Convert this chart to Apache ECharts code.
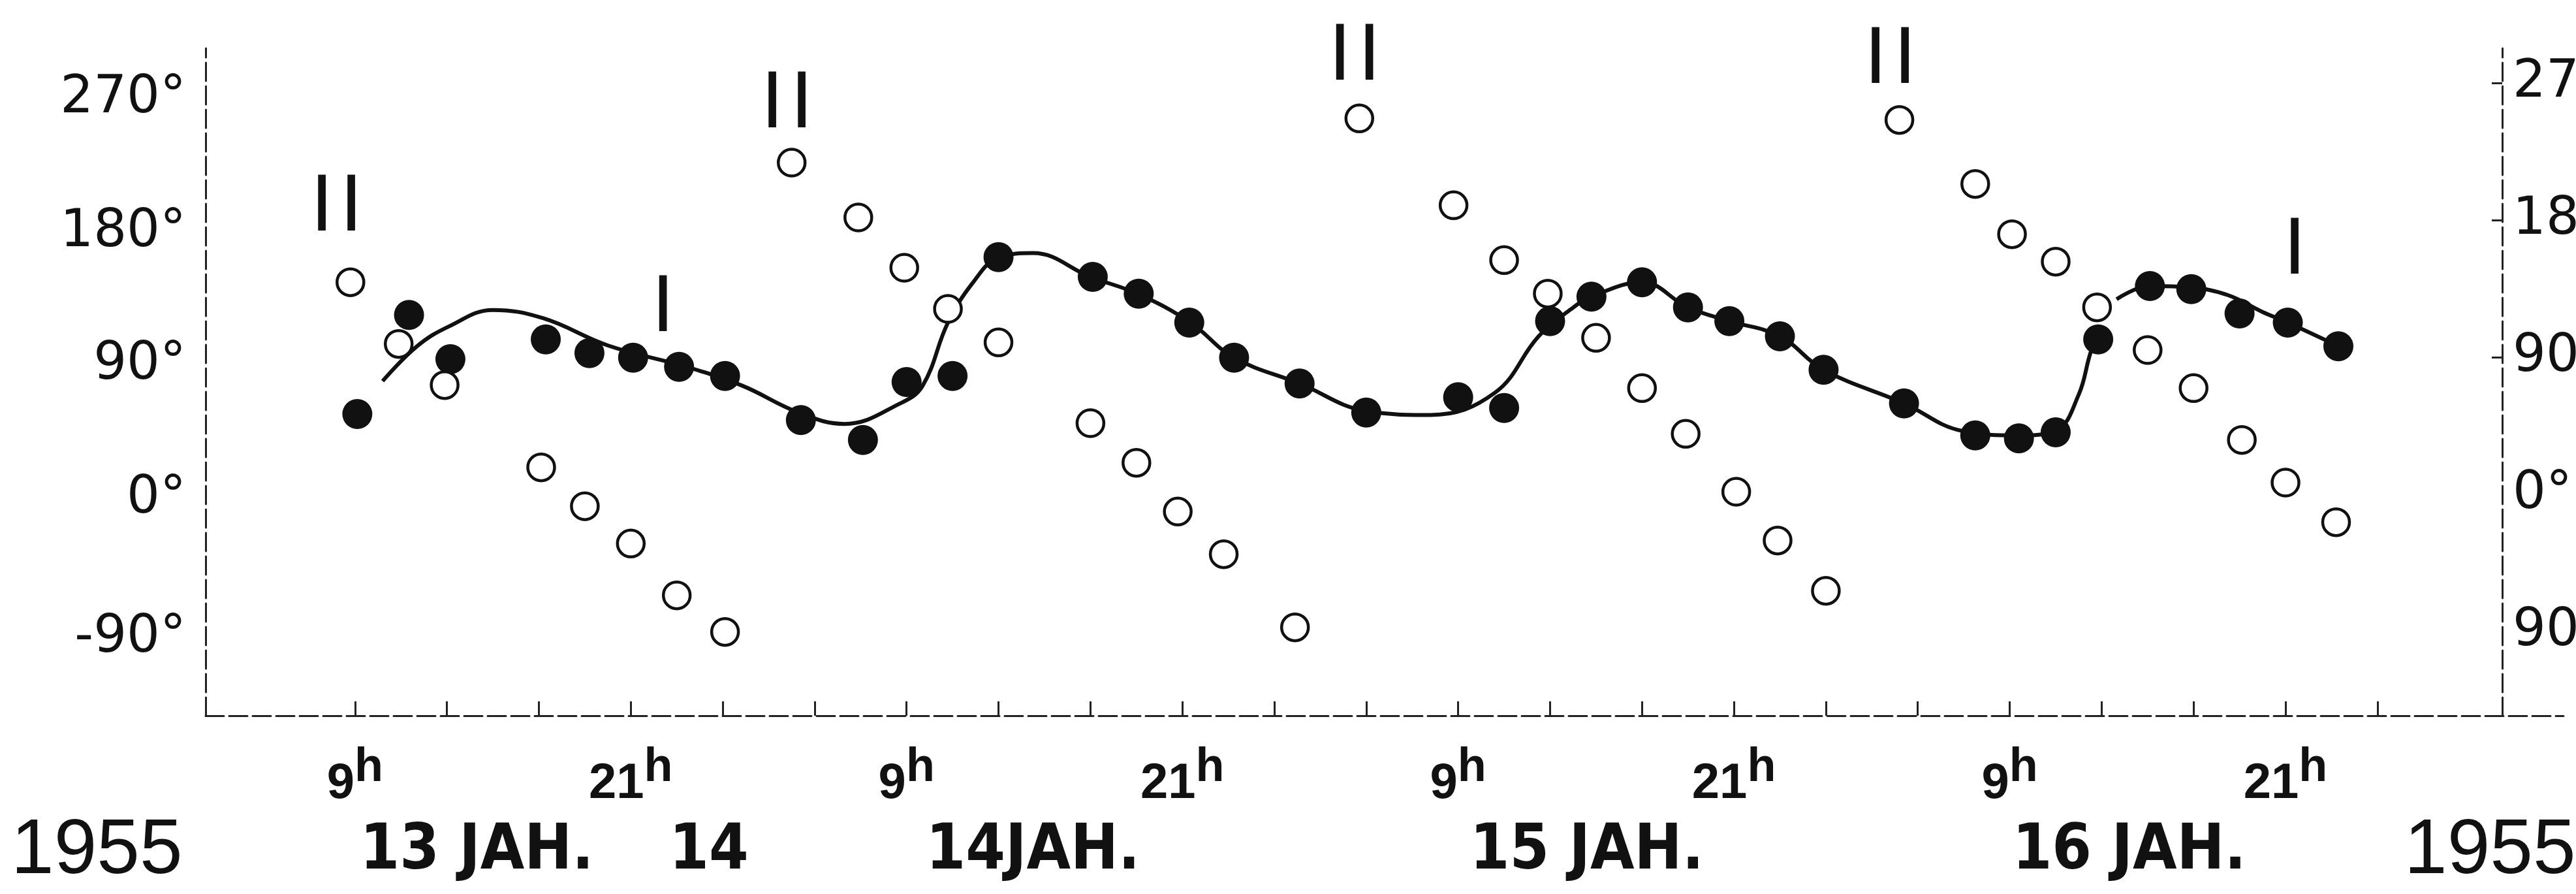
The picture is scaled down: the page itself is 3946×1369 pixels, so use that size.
<!DOCTYPE html>
<html>
<head>
<meta charset="utf-8">
<script src="https://cdn.jsdelivr.net/npm/echarts@6/dist/echarts.min.js"></script>
<style>
  html, body { margin: 0; padding: 0; background: #fff; }
  #chart { width: 3946px; height: 1369px; }
</style>
</head>
<body>
<div id="chart"></div>
<script>
// time is in hours counted from 13 Jan 1955, 0h
// I : filled dots
const hoursI = [9.1, 11.35, 13.15, 17.3, 19.2, 21.1, 23.1, 25.1, 28.4, 31.1, 33.0, 35.0, 37.0, 41.1, 43.1, 45.3, 47.25, 50.1, 53.0, 57.0,
  59.0, 61.0, 62.8, 65.0, 67.0, 68.8, 71.0, 72.9, 76.4, 79.5, 81.4, 83.0, 84.85, 87.1, 88.9, 91.0, 93.1, 95.3]
const phaseI = [53, 118, 89, 102, 93, 90, 84, 78, 49, 36, 74, 78, 156, 143, 132, 113, 90, 73, 54, 64,
  57, 114, 130, 139.5, 123, 114, 104, 82, 60, 39, 37, 41, 102, 137, 135, 119, 113, 97.5]

// II : open circles
const hoursII = [8.8, 10.9, 12.9, 17.1, 19.0, 21.0, 23.0, 25.1, 28.0, 30.9, 32.9, 34.8, 37.0, 41.0, 43.0, 44.8, 46.8, 49.9, 52.7, 56.8,
  59.0, 60.9, 63.0, 65.0, 66.9, 69.1, 70.9, 73.0, 76.2, 79.5, 81.1, 83.0, 84.8, 87.0, 89.0, 91.1, 93.0, 95.2]
const phaseII = [139.5, 99, 72, 18, -7.5, -32, -66, -90, 218, 182, 149, 122, 100, 47, 21, -11, -39, -87, 247, 190,
  154, 132, 103, 70, 40, 2, -30, -63, 246, 204, 171, 153, 123, 95, 70, 36, 8, -18]

// hand drawn curve through I, two pieces
const curve1Hours = [10.2, 11.7, 13.1, 15.0, 17.2, 20.0, 23.5, 25.85, 28.3, 30.3, 32.7, 33.7, 34.8, 35.9, 37.0, 38.5, 41.0, 43.1, 45.35, 47.25,
  50.1, 53.0, 55.8, 58.6, 60.5, 61.9, 62.8, 65.0, 67.0, 68.8, 71.0, 72.9, 76.4, 78.9, 81.4, 83.0, 84.0, 84.55, 84.85]
const curve1Phase = [74.6, 97.5, 110.6, 121.3, 115.8, 98, 83.6, 71.6, 54, 46.5, 59.8, 71.6, 113, 139.5, 155.7, 158.6, 143, 131.6, 113, 90,
  73, 55, 52.4, 67, 104, 121.7, 130, 139.5, 123, 114, 104, 82, 60, 42, 39, 42, 65.7, 94.8, 102]
const curve2Hours = [85.65, 87.1, 88.9, 90.5, 92.0, 93.1, 95.3]
const curve2Phase = [128.3, 137, 136, 131, 120, 113, 97.5]

// the I / II marks over the points
const annHours = [8.2, 27.8, 52.5, 75.8, 22.4, 93.4]
const annPhase = [188, 256, 287, 285, 122, 160]
const annTexts = ['II', 'II', 'II', 'II', 'I', 'I']

// axes
const tickHours = [9, 13, 17, 21, 25, 29, 33, 37, 41, 45, 49, 53, 57, 61, 65, 69, 73, 77, 81, 85, 89, 93, 97]
const labelHours = [9, 21, 33, 45, 57, 69, 81, 93]
const dateHours = [14.3, 24.4, 38.5, 62.6, 86.2]
const dateTexts = ['13 JAH.', '14', '14JAH.', '15 JAH.', '16 JAH.']
// left labels are printed a little off their ticks
const leftDegPos = [-94, -3, 85, 172, 260]
const leftDegTexts = ['-90°', '0°', '90°', '180°', '270°']
const rightDegPos = [-90, 0, 90, 180, 270]
const rightDegTexts = ['90', '0°', '90', '180', '270']
const rightTickDeg = [90, 180, 270]
const yearText = '1955'

const FONT = 'Liberation Sans'
const NARROW = '"DejaVu Sans Condensed", "Liberation Sans"'
const INK = '#111'

function pairs(xs, ys) {
  return xs.map((x, i) => [x, ys[i]])
}

const chart = echarts.init(document.getElementById('chart'))

const dashed = { color: '#222', width: 3, type: [28, 8] }

chart.setOption({
  backgroundColor: '#fff',
  animation: false,
  grid: {
    left: 315,
    right: 19,
    top: 74,
    bottom: 273,
    outerBoundsMode: 'none'
  },
  xAxis: [{
    type: 'value',
    min: 2.5,
    max: 105.1,
    position: 'bottom',
    splitLine: { show: false },
    axisLine: { show: true, onZero: false, lineStyle: dashed },
    axisTick: {
      show: true,
      inside: true,
      length: 22,
      customValues: tickHours,
      lineStyle: { color: '#222', width: 3 }
    },
    axisLabel: {
      customValues: labelHours,
      margin: 44,
      formatter: function(v) {
        return '{n|' + (v % 24) + '}{h|h}'
      },
      rich: {
        n: { fontFamily: FONT, fontWeight: 'bold', fontSize: 76, lineHeight: 122, color: INK },
        h: { fontFamily: FONT, fontWeight: 'bold', fontSize: 72, lineHeight: 60, verticalAlign: 'top', color: INK }
      }
    }
  }, {
    type: 'value',
    min: 2.5,
    max: 105.1,
    position: 'bottom',
    splitLine: { show: false },
    axisLine: { show: false, onZero: false },
    axisTick: { show: false },
    axisLabel: {
      customValues: dateHours,
      margin: 160,
      fontFamily: NARROW,
      fontWeight: 'bold',
      fontSize: 97,
      color: INK,
      formatter: function(v) {
        const i = dateHours.indexOf(v)
        return i >= 0 ? dateTexts[i] : ''
      }
    }
  }],
  yAxis: [{
    type: 'value',
    min: -145,
    max: 293,
    position: 'left',
    splitLine: { show: false },
    axisLine: { show: true, onZero: false, lineStyle: dashed },
    axisTick: { show: false },
    axisLabel: {
      customValues: leftDegPos,
      margin: 30,
      fontFamily: 'DejaVu Sans',
      fontSize: 80,
      color: INK,
      formatter: v => leftDegTexts[leftDegPos.indexOf(v)]
    }
  }, {
    type: 'value',
    min: -145,
    max: 293,
    position: 'right',
    offset: -94,
    splitLine: { show: false },
    axisLine: { show: true, onZero: false, lineStyle: dashed },
    axisTick: {
      show: true,
      inside: true,
      length: 16,
      customValues: rightTickDeg,
      lineStyle: { color: '#222', width: 3 }
    },
    axisLabel: {
      customValues: rightDegPos,
      margin: 16,
      fontFamily: 'DejaVu Sans',
      fontSize: 80,
      color: INK,
      formatter: v => rightDegTexts[rightDegPos.indexOf(v)]
    }
  }],
  graphic: [{
    type: 'text',
    left: 17,
    top: 1245,
    style: { text: yearText, font: '118px "Liberation Sans"', fill: INK }
  }, {
    type: 'text',
    left: 3683,
    top: 1245,
    style: { text: yearText, font: '118px "Liberation Sans"', fill: INK }
  }],
  series: [{
    name: 'curve1',
    type: 'line',
    smooth: 0.4,
    showSymbol: false,
    z: 2,
    lineStyle: { color: INK, width: 6 },
    data: pairs(curve1Hours, curve1Phase)
  }, {
    name: 'curve2',
    type: 'line',
    smooth: 0.4,
    showSymbol: false,
    z: 2,
    lineStyle: { color: INK, width: 6 },
    data: pairs(curve2Hours, curve2Phase)
  }, {
    name: 'I',
    type: 'scatter',
    symbol: 'circle',
    symbolSize: 46,
    z: 3,
    itemStyle: { color: INK, opacity: 1 },
    data: pairs(hoursI, phaseI)
  }, {
    name: 'II',
    type: 'scatter',
    symbol: 'circle',
    symbolSize: 41,
    z: 4,
    itemStyle: { color: '#fff', borderColor: INK, borderWidth: 4.5, opacity: 1 },
    data: pairs(hoursII, phaseII)
  }, {
    name: 'marks',
    type: 'scatter',
    symbolSize: 0,
    z: 5,
    itemStyle: { opacity: 1 },
    label: {
      show: true,
      position: 'inside',
      formatter: p => {
        const t = annTexts[p.dataIndex]
        return t.split('').map(() => '{b|I}').join('')
      },
      rich: {
        b: { fontFamily: FONT, fontSize: 125, width: 45, align: 'center', color: INK }
      }
    },
    data: pairs(annHours, annPhase)
  }]
})
</script>
</body>
</html>
